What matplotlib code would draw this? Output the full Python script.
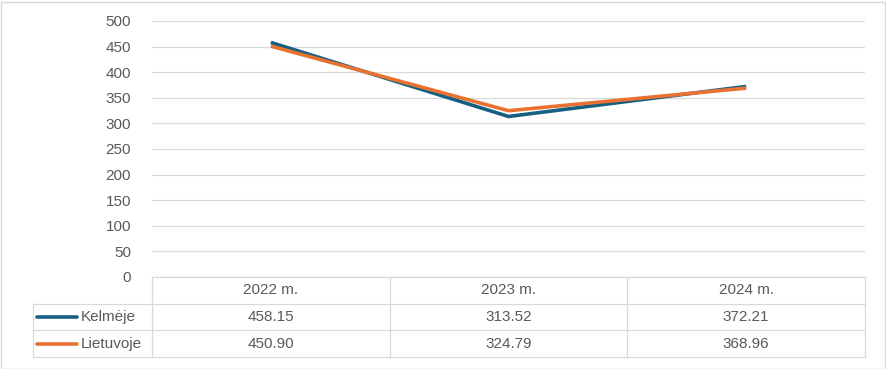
import matplotlib
matplotlib.use("Agg")
import matplotlib.pyplot as plt
from matplotlib.patches import Rectangle

years = ["2022 m.", "2023 m.", "2024 m."]
kelmeje = [458.15, 313.52, 372.21]
lietuvoje = [450.90, 324.79, 368.96]
series_names = ["Kelmėje", "Lietuvoje"]
series_colors = ["#156082", "#E97132"]
yticks = [0, 50, 100, 150, 200, 250, 300, 350, 400, 450, 500]

W, H = 886, 369
grey_txt = "#595959"
grid_c = "#D9D9D9"
plt.rcParams['font.family'] = ['Liberation Sans', 'DejaVu Sans']

fig = plt.figure(figsize=(W / 100, H / 100), dpi=100)
fig.add_artist(Rectangle((0.5 / W, 0.5 / H), (W - 2) / W, (H - 2) / H,
                         transform=fig.transFigure, fill=False, ec=grid_c, lw=1))

# main plot area: pixels x 152..865, y 21..277
ax = fig.add_axes([152 / W, 1 - 277 / H, (865 - 152) / W, (277 - 21) / H])
xs = list(range(len(years)))
for vals, col in zip([kelmeje, lietuvoje], series_colors):
    ax.plot(xs, vals, color=col, lw=2.6, solid_capstyle="butt", zorder=3)
ax.set_xlim(-0.5, 2.5)
ax.set_ylim(0, 500)
ax.set_yticks(yticks)
ax.set_xticks([])
ax.grid(axis="y", color=grid_c, lw=0.9)
ax.set_axisbelow(True)
for s in ax.spines.values():
    s.set_visible(False)
ax.tick_params(axis="y", length=0, pad=15, labelsize=11, labelcolor=grey_txt)

# data table: pixels x 33..865, y 277..357
tb = fig.add_axes([33 / W, 1 - 357 / H, (865 - 33) / W, (357 - 277) / H])
tb.set_xlim(-1.0, 2.5)
tb.set_ylim(0, 3)
tb.axis("off")
lkw = dict(color=grid_c, lw=0.9, clip_on=False)
# horizontal lines
tb.plot([-0.5, 2.5], [3, 3], **lkw)
for yy in [2, 1, 0]:
    tb.plot([-1.0, 2.5], [yy, yy], **lkw)
# vertical lines
for xx in [-0.5, 0.5, 1.5, 2.5]:
    tb.plot([xx, xx], [0, 3], **lkw)
tb.plot([-1.0, -1.0], [0, 2], **lkw)

for i, y in enumerate(years):
    tb.text(i, 2.5, y, ha="center", va="center", fontsize=11, color=grey_txt)
rows = [kelmeje, lietuvoje]
for r, (name, col, vals) in enumerate(zip(series_names, series_colors, rows)):
    yc = 1.5 - r
    tb.plot([-0.983, -0.815], [yc, yc], color=col, lw=2.6, solid_capstyle="round")
    tb.text(-0.80, yc, name, ha="left", va="center", fontsize=11, color=grey_txt)
    for i, v in enumerate(vals):
        tb.text(i, yc, f"{v:.2f}", ha="center", va="center", fontsize=11, color=grey_txt)

fig.savefig("out.png", dpi=100)
